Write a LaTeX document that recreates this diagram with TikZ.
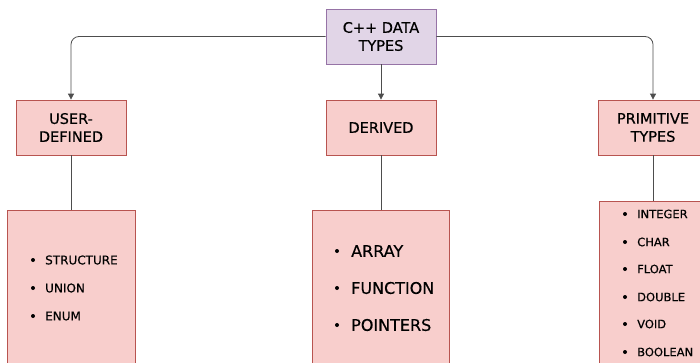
\documentclass[tikz,border=0pt]{standalone}
\usepackage{fontspec}
\setmainfont{DejaVu Sans}[UprightFeatures={FakeBold=0.5}]
\usetikzlibrary{arrows.meta}
\definecolor{topfill}{HTML}{E1D5E7}
\definecolor{topdraw}{HTML}{9673A6}
\definecolor{redfill}{HTML}{F8CECC}
\definecolor{reddraw}{HTML}{B85450}
\definecolor{lin}{HTML}{4D4D4D}
\begin{document}
\begin{tikzpicture}[x=1pt,y=-1pt,
  topbox/.style={draw=topdraw,fill=topfill,line width=0.8pt,minimum width=110pt,minimum height=55pt,inner sep=0pt,align=center,font=\fontsize{14.5}{18}\selectfont},
  catbox/.style={draw=reddraw,fill=redfill,line width=0.8pt,minimum width=110pt,minimum height=55pt,inner sep=0pt,align=center,font=\fontsize{14.5}{18}\selectfont},
  listbox/.style={draw=reddraw,fill=redfill,line width=0.8pt,inner sep=0pt},
  conn/.style={draw=lin,line width=0.8pt},
  arr/.style={conn,-{Triangle[length=6pt,width=6pt]}},
  item/.style={anchor=west,inner sep=0pt},
  dot/.style={circle,fill=black,inner sep=0pt,minimum size=4pt,font=\tiny}
]
\useasboundingbox (0,0) rectangle (700,362);
\clip (0,0) rectangle (700,362);
\fill[white] (0,0) rectangle (700,362);

\node[topbox] (top) at (381,36.5) {C++ DATA\\TYPES};
\node[catbox] (user) at (71,127.5) {USER-\\DEFINED};
\node[catbox] (der) at (381,127.5) {DERIVED};
\node[catbox] (prim) at (653,127.5) {PRIMITIVE\\TYPES};

\node[listbox,minimum width=128pt,minimum height=170pt,anchor=north west] (ul) at (7,210) {};
\node[listbox,minimum width=137pt,minimum height=170pt,anchor=north west] (dl) at (312,210) {};
\node[listbox,minimum width=120pt,minimum height=180pt,anchor=north west] (pl) at (599,201) {};

\coordinate (ut) at (71,210);
\coordinate (dt) at (381,210);
\coordinate (pt) at (653,201);

\draw[arr,rounded corners=8pt] (top.west) -| (user.north);
\draw[arr,rounded corners=8pt] (top.east) -| (prim.north);
\draw[arr] (top.south) -- (der.north);
\draw[conn] (user.south) -- (ut);
\draw[conn] (der.south) -- (dt);
\draw[conn] (prim.south) -- (pt);

\begin{scope}[font=\fontsize{12}{14}\selectfont]
\node[dot] (ub1) at (33,260) {};
\node[item] (u1) at (45,260) {STRUCTURE};
\node[dot] (ub2) at (33,288) {};
\node[item] (u2) at (45,288) {UNION};
\node[dot] (ub3) at (33,316) {};
\node[item] (u3) at (45,316) {ENUM};
\end{scope}
\begin{scope}[font=\fontsize{16}{18}\selectfont]
\node[dot] (db1) at (337,251) {};
\node[item] (d1) at (351,251) {ARRAY};
\node[dot] (db2) at (337,288) {};
\node[item] (d2) at (351,288) {FUNCTION};
\node[dot] (db3) at (337,325) {};
\node[item] (d3) at (351,325) {POINTERS};
\end{scope}
\begin{scope}[font=\fontsize{11.5}{14}\selectfont]
\node[dot] (pb1) at (625,214) {};
\node[item] (p1) at (637,214) {INTEGER};
\node[dot] (pb2) at (625,242) {};
\node[item] (p2) at (637,242) {CHAR};
\node[dot] (pb3) at (625,269) {};
\node[item] (p3) at (637,269) {FLOAT};
\node[dot] (pb4) at (625,297) {};
\node[item] (p4) at (637,297) {DOUBLE};
\node[dot] (pb5) at (625,324) {};
\node[item] (p5) at (637,324) {VOID};
\node[dot] (pb6) at (625,352) {};
\node[item] (p6) at (637,352) {BOOLEAN};
\end{scope}
\end{tikzpicture}
\end{document}
